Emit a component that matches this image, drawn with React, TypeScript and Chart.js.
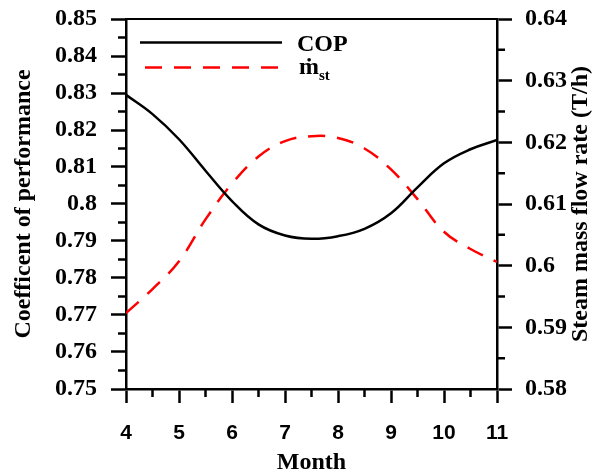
import React, { useEffect, useRef } from "react";
import { Chart, registerables } from "chart.js";

Chart.register(...registerables);

const months = [4, 4.5, 5, 5.5, 6, 6.5, 7, 7.5, 8, 8.5, 9, 9.5, 10, 10.5, 11];
const copValues = [0.8295, 0.8243, 0.8175, 0.809, 0.8008, 0.7945, 0.7915, 0.7906, 0.7913, 0.7933, 0.7975, 0.8045, 0.811, 0.8148, 0.8173];
const steamValues = [0.5923, 0.5962, 0.6007, 0.6075, 0.6133, 0.6177, 0.6202, 0.621, 0.6207, 0.619, 0.6156, 0.6108, 0.6055, 0.6027, 0.6006];
const xTicks = [4, 5, 6, 7, 8, 9, 10, 11];
const copTicks = [0.75, 0.76, 0.77, 0.78, 0.79, 0.8, 0.81, 0.82, 0.83, 0.84, 0.85];
const steamTicks = [0.58, 0.59, 0.6, 0.61, 0.62, 0.63, 0.64];

const SERIF = "'Liberation Serif', 'Times New Roman', serif";
const SANS = "'Liberation Sans', Arial, sans-serif";

const decorPlugin = {
  id: "decor",
  afterDraw(chart: any) {
    const ctx = chart.ctx;
    const ca = chart.chartArea;
    const sx = chart.scales.x;
    const sy = chart.scales.y;
    const sy1 = chart.scales.y1;
    ctx.save();
    ctx.strokeStyle = "#000";
    ctx.lineWidth = 2;
    ctx.beginPath();
    ctx.moveTo(ca.left - 1, ca.top);
    ctx.lineTo(ca.right + 1, ca.top);
    ctx.stroke();
    ctx.lineWidth = 2.5;
    ctx.beginPath();
    for (let i = 0; i < xTicks.length - 1; i++) {
      const px = sx.getPixelForValue((xTicks[i] + xTicks[i + 1]) / 2);
      ctx.moveTo(px, ca.bottom);
      ctx.lineTo(px, ca.bottom + 8);
    }
    for (let i = 0; i < copTicks.length - 1; i++) {
      const py = sy.getPixelForValue((copTicks[i] + copTicks[i + 1]) / 2);
      ctx.moveTo(ca.left, py);
      ctx.lineTo(ca.left - 8, py);
    }
    for (let i = 0; i < steamTicks.length - 1; i++) {
      const py = sy1.getPixelForValue((steamTicks[i] + steamTicks[i + 1]) / 2);
      ctx.moveTo(ca.right, py);
      ctx.lineTo(ca.right + 8, py);
    }
    ctx.stroke();

    // legend
    ctx.lineWidth = 2.5;
    ctx.strokeStyle = "#000";
    ctx.setLineDash([]);
    ctx.beginPath();
    ctx.moveTo(140, 42.5);
    ctx.lineTo(282, 42.5);
    ctx.stroke();
    ctx.strokeStyle = "#ff0000";
    ctx.setLineDash([17, 12]);
    ctx.beginPath();
    ctx.moveTo(145, 67.5);
    ctx.lineTo(290, 67.5);
    ctx.stroke();
    ctx.setLineDash([]);
    ctx.fillStyle = "#000";
    ctx.textAlign = "left";
    ctx.textBaseline = "alphabetic";
    ctx.font = `bold 24px ${SERIF}`;
    ctx.fillText("COP", 297, 51);
    ctx.fillText("\u1E41", 299, 74);
    const mw = ctx.measureText("\u1E41").width;
    ctx.font = `bold 15px ${SERIF}`;
    ctx.fillText("st", 299 + mw, 80);

    // axis titles
    ctx.font = `bold 24px ${SERIF}`;
    ctx.textAlign = "center";
    ctx.textBaseline = "middle";
    const cy = (ca.top + ca.bottom) / 2;
    ctx.save();
    ctx.translate(24, cy);
    ctx.rotate(-Math.PI / 2);
    ctx.fillText("Coefficent of performance", 0, 0);
    ctx.restore();
    ctx.save();
    ctx.translate(581, cy);
    ctx.rotate(-Math.PI / 2);
    ctx.fillText("Steam mass flow rate (T/h)", 0, 0);
    ctx.restore();
    ctx.textBaseline = "alphabetic";
    ctx.fillText("Month", (ca.left + ca.right) / 2, 469);
    ctx.restore();
  },
};

const fmt = (v: any) => String(+Number(v).toFixed(2));

export default function App() {
  const ref = useRef<HTMLCanvasElement>(null);
  useEffect(() => {
    document.body.style.margin = "0";
    const chart = new Chart(ref.current!, {
      type: "line",
      data: {
        datasets: [
          {
            label: "COP",
            data: months.map((m, i) => ({ x: m, y: copValues[i] })),
            borderColor: "#000",
            borderWidth: 2.5,
            pointRadius: 0,
            tension: 0.4,
            yAxisID: "y",
          },
          {
            label: "mst",
            data: months.map((m, i) => ({ x: m, y: steamValues[i] })),
            borderColor: "#ff0000",
            borderWidth: 2.5,
            borderDash: [17, 12],
            pointRadius: 0,
            tension: 0.4,
            yAxisID: "y1",
          },
        ],
      },
      options: {
        responsive: false,
        animation: false,
        layout: { padding: { top: 19, left: 0, right: 0, bottom: 0 } },
        plugins: { legend: { display: false }, tooltip: { enabled: false } },
        scales: {
          x: {
            type: "linear",
            min: 4,
            max: 11,
            afterFit: (s: any) => { s.height = 84; s.paddingLeft = 0; s.paddingRight = 0; },
            afterBuildTicks: (s: any) => { s.ticks = xTicks.map((v) => ({ value: v })); },
            ticks: { font: { family: SANS, size: 21, weight: "bold" }, color: "#000", padding: 18, maxRotation: 0, callback: (v: any) => String(v) },
            grid: { drawOnChartArea: false, drawTicks: true, tickLength: 14, tickWidth: 2.5, tickColor: "#000" },
            border: { display: true, width: 2.5, color: "#000" },
          },
          y: {
            type: "linear",
            position: "left",
            min: 0.75,
            max: 0.85,
            afterFit: (s: any) => { s.width = 126; s.paddingTop = 0; s.paddingBottom = 0; },
            afterBuildTicks: (s: any) => { s.ticks = copTicks.map((v) => ({ value: v })); },
            ticks: { font: { family: SERIF, size: 24, weight: "bold" }, color: "#000", padding: 14, callback: fmt },
            grid: { drawOnChartArea: false, drawTicks: true, tickLength: 15, tickWidth: 2.5, tickColor: "#000" },
            border: { display: true, width: 2.5, color: "#000" },
          },
          y1: {
            type: "linear",
            position: "right",
            min: 0.58,
            max: 0.64,
            afterFit: (s: any) => { s.width = 103; s.paddingTop = 0; s.paddingBottom = 0; },
            afterBuildTicks: (s: any) => { s.ticks = steamTicks.map((v) => ({ value: v })); },
            ticks: { font: { family: SERIF, size: 24, weight: "bold" }, color: "#000", padding: 13, callback: fmt },
            grid: { drawOnChartArea: false, drawTicks: true, tickLength: 15, tickWidth: 2.5, tickColor: "#000" },
            border: { display: true, width: 2.5, color: "#000" },
          },
        },
      },
      plugins: [decorPlugin],
    } as any);
    return () => chart.destroy();
  }, []);
  return <canvas ref={ref} width={600} height={473} style={{ display: "block" }} />;
}
